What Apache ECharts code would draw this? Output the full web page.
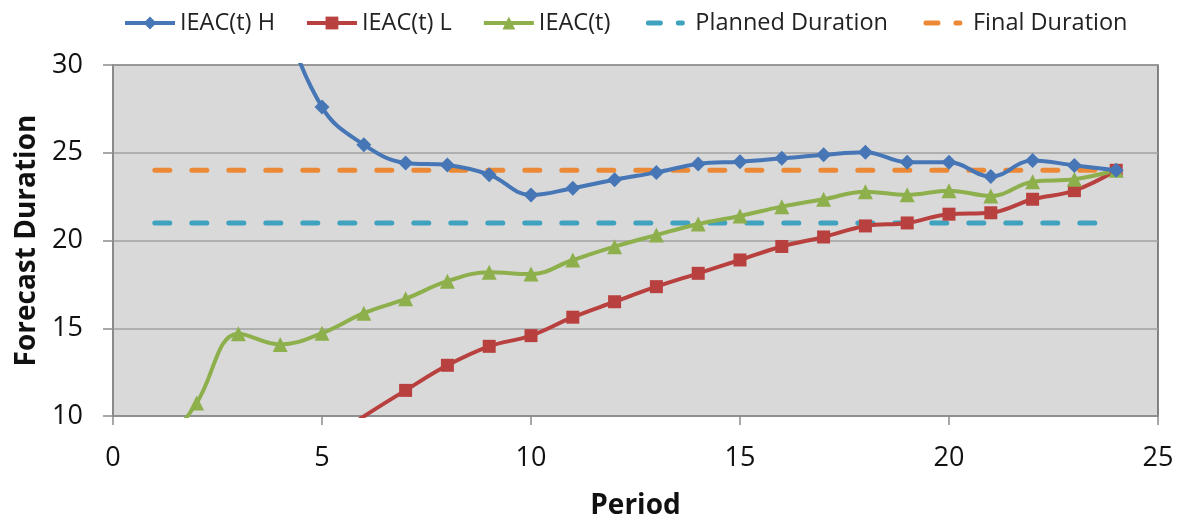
<!DOCTYPE html>
<html>
<head>
<meta charset="utf-8">
<script src="https://cdn.jsdelivr.net/npm/echarts@6/dist/echarts.min.js"></script>
<style>html,body{margin:0;padding:0;background:#fff;}#chart{width:1179px;height:523px;}</style>
</head>
<body>
<div id="chart"></div>
<script>
// Data
const periodsH = [3, 4, 5, 6, 7, 8, 9, 10, 11, 12, 13, 14, 15, 16, 17, 18, 19, 20, 21, 22, 23, 24];
const valuesH  = [42, 33.5, 27.6, 25.46, 24.42, 24.3, 23.75, 22.59, 22.98, 23.46, 23.88, 24.36, 24.49, 24.68, 24.88, 25.03, 24.46, 24.46, 23.64, 24.56, 24.28, 24.0];

const periodsL = [5, 6, 7, 8, 9, 10, 11, 12, 13, 14, 15, 16, 17, 18, 19, 20, 21, 22, 23, 24];
const valuesL  = [8.3, 9.97, 11.46, 12.89, 13.97, 14.58, 15.63, 16.51, 17.37, 18.13, 18.89, 19.66, 20.2, 20.83, 21.0, 21.5, 21.58, 22.35, 22.84, 24.0];

const periodsT = [1, 2, 3, 4, 5, 6, 7, 8, 9, 10, 11, 12, 13, 14, 15, 16, 17, 18, 19, 20, 21, 22, 23, 24];
const valuesT  = [7.5, 10.74, 14.69, 14.08, 14.72, 15.86, 16.68, 17.68, 18.19, 18.09, 18.89, 19.65, 20.31, 20.94, 21.4, 21.93, 22.35, 22.78, 22.6, 22.84, 22.54, 23.35, 23.49, 24.0];

const plannedPeriods = [1, 24];
const plannedValue = 21;
const finalPeriods = [1, 24];
const finalValue = 24;

const seriesNames = ['IEAC(t) H', 'IEAC(t) L', 'IEAC(t)', 'Planned Duration', 'Final Duration'];
const xTicks = {min: 0, max: 25, interval: 5};
const yTicks = {min: 10, max: 30, interval: 5};

const pairs = (xs, ys) => xs.map((x, i) => [x, ys[i]]);
const constPairs = (xs, v) => xs.map(x => [x, v]);

const colors = ['#4676B6', '#B8413F', '#8DB04D', '#3FA2BE', '#EC8936'];
const FONT = '"Open Sans", "Liberation Sans", sans-serif';
// legend icon for dashed series: two rounded dashes inside a 50x16 box (tiny corner dots fix the box)
const dashIcon = 'path://M0,0h0.01v0.01h-0.01z M50,16h0.01v0.01h-0.01z ' +
  'M8,5.5h12a2.5,2.5 0 0 1 0,5h-12a2.5,2.5 0 0 1 0,-5z ' +
  'M38,5.5h4a2.5,2.5 0 0 1 0,5h-4a2.5,2.5 0 0 1 0,-5z';

const chart = echarts.init(document.getElementById('chart'));
chart.setOption({
  animation: false,
  color: colors,
  textStyle: {fontFamily: FONT},
  legend: {
    left: 118, top: 6,
    itemWidth: 50, itemHeight: 16, itemGap: 30,
    lineStyle: {width: 4},
    textStyle: {fontFamily: FONT, fontSize: 23.5, color: '#222'},
    data: [
      seriesNames[0], seriesNames[1], seriesNames[2],
      {name: seriesNames[3], icon: dashIcon, itemStyle: {color: colors[3]}},
      {name: seriesNames[4], icon: dashIcon, itemStyle: {color: colors[4]}}
    ]
  },
  grid: {
    left: 113, right: 21, top: 65, bottom: 107,
    outerBoundsMode: 'none', containLabel: false,
    show: true, backgroundColor: '#D9D9D9', borderColor: '#606060', borderWidth: 1.5
  },
  xAxis: {
    type: 'value', min: xTicks.min, max: xTicks.max, interval: xTicks.interval,
    name: 'Period', nameLocation: 'middle', nameGap: 76,
    nameTextStyle: {fontFamily: FONT, fontSize: 28, fontWeight: 'bold', color: '#111'},
    axisLine: {show: true, lineStyle: {color: '#8c8c8c', width: 1.5}},
    axisTick: {show: true, inside: false, length: 9, lineStyle: {color: '#8c8c8c', width: 1.5}},
    axisLabel: {fontFamily: FONT, fontSize: 27, color: '#111', margin: 29},
    splitLine: {show: false}
  },
  yAxis: {
    type: 'value', min: yTicks.min, max: yTicks.max, interval: yTicks.interval,
    name: 'Forecast Duration', nameLocation: 'middle', nameGap: 70,
    nameTextStyle: {fontFamily: FONT, fontSize: 28, fontWeight: 'bold', color: '#111'},
    axisLine: {show: true, lineStyle: {color: '#8c8c8c', width: 1.5}},
    axisTick: {show: true, inside: false, length: 10, lineStyle: {color: '#8c8c8c', width: 1.5}},
    axisLabel: {fontFamily: FONT, fontSize: 27, color: '#111', margin: 30},
    splitLine: {show: true, lineStyle: {color: '#A0A0A0', width: 1.5}}
  },
  series: [
    {
      name: seriesNames[0], type: 'line', smooth: 0.4, clip: true,
      data: pairs(periodsH, valuesH),
      symbol: 'diamond', symbolSize: 15,
      lineStyle: {width: 4, color: colors[0]}, itemStyle: {color: colors[0]}, z: 5
    },
    {
      name: seriesNames[1], type: 'line', smooth: 0.4, clip: true,
      data: pairs(periodsL, valuesL),
      symbol: 'rect', symbolSize: 13,
      lineStyle: {width: 4, color: colors[1]}, itemStyle: {color: colors[1]}, z: 4
    },
    {
      name: seriesNames[2], type: 'line', smooth: 0.4, clip: true,
      data: pairs(periodsT, valuesT),
      symbol: 'triangle', symbolSize: 15,
      lineStyle: {width: 4, color: colors[2]}, itemStyle: {color: colors[2]}, z: 4
    },
    {
      name: seriesNames[3], type: 'line', clip: true,
      data: constPairs(plannedPeriods, plannedValue),
      symbol: 'none',
      lineStyle: {width: 5, color: colors[3], type: [15, 22], cap: 'round'},
      itemStyle: {color: colors[3]}, z: 3
    },
    {
      name: seriesNames[4], type: 'line', clip: true,
      data: constPairs(finalPeriods, finalValue),
      symbol: 'none',
      lineStyle: {width: 5, color: colors[4], type: [15, 22], cap: 'round'},
      itemStyle: {color: colors[4]}, z: 3
    }
  ]
});
</script>
</body>
</html>
